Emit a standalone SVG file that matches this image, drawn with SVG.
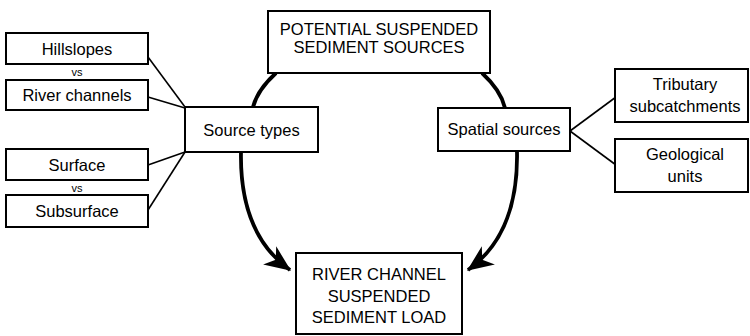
<svg xmlns="http://www.w3.org/2000/svg" width="750" height="336" viewBox="0 0 750 336">
<style>
.box{fill:#fff;stroke:#000;stroke-width:2}
.t{font-family:"Liberation Sans",Arial,sans-serif;font-size:16.5px;fill:#000;text-anchor:middle}
.vs{font-family:"Liberation Sans",Arial,sans-serif;font-size:11px;fill:#000;text-anchor:middle}
.thin{fill:none;stroke:#000;stroke-width:1.6}
.thick{fill:none;stroke:#000;stroke-width:3.8}
</style>
<defs>
<marker id="ah" markerUnits="userSpaceOnUse" markerWidth="30" markerHeight="30" viewBox="-22 -11 24 22" refX="0" refY="0" orient="auto">
<path d="M1,0 L-20,-9 L-14,0 L-20,9 Z" fill="#000"/>
</marker>
</defs>
<g id="connectors">
<line class="thin" x1="148" y1="57" x2="185" y2="107"/>
<line class="thin" x1="148" y1="97" x2="185" y2="108"/>
<line class="thin" x1="148" y1="165" x2="185" y2="152"/>
<line class="thin" x1="148" y1="210" x2="185" y2="152"/>
<line class="thin" x1="570" y1="131" x2="616" y2="97"/>
<line class="thin" x1="570" y1="131" x2="616" y2="165"/>
<path class="thick" d="M276,73 C264,84 256,95 253,107"/>
<path class="thick" d="M482,73 C494,84 502,95 505,108"/>
<path class="thick" d="M241,152 C240,205 255,245 290,270" marker-end="url(#ah)"/>
<path class="thick" d="M517,152 C518,205 503,245 468,270" marker-end="url(#ah)"/>
</g>
<g id="top">
<rect class="box" x="268" y="11" width="222" height="62"/>
<text class="t" x="379" y="35">POTENTIAL SUSPENDED</text>
<text class="t" x="379" y="53">SEDIMENT SOURCES</text>
</g>
<g id="hillslopes">
<rect class="box" x="6" y="33" width="142" height="31"/>
<text class="t" x="77" y="55">Hillslopes</text>
</g>
<text class="vs" x="77" y="76">vs</text>
<g id="river-channels">
<rect class="box" x="6" y="80" width="142" height="30"/>
<text class="t" x="77" y="101">River channels</text>
</g>
<g id="surface">
<rect class="box" x="6" y="149" width="142" height="31"/>
<text class="t" x="77" y="171">Surface</text>
</g>
<text class="vs" x="77" y="192">vs</text>
<g id="subsurface">
<rect class="box" x="6" y="195" width="142" height="32"/>
<text class="t" x="77" y="217">Subsurface</text>
</g>
<g id="source-types">
<rect class="box" x="185" y="107" width="133" height="45"/>
<text class="t" x="251.5" y="135.5">Source types</text>
</g>
<g id="spatial-sources">
<rect class="box" x="438" y="108" width="132" height="43"/>
<text class="t" x="504" y="135">Spatial sources</text>
</g>
<g id="tributary">
<rect class="box" x="615" y="69" width="133" height="53"/>
<text class="t" x="685" y="90">Tributary</text>
<text class="t" x="685" y="112">subcatchments</text>
</g>
<g id="geological">
<rect class="box" x="615" y="139" width="133" height="53"/>
<text class="t" x="685" y="160">Geological</text>
<text class="t" x="685" y="182">units</text>
</g>
<g id="load">
<rect class="box" x="296" y="253" width="166" height="81"/>
<text class="t" x="379" y="280">RIVER CHANNEL</text>
<text class="t" x="379" y="302">SUSPENDED</text>
<text class="t" x="379" y="323">SEDIMENT LOAD</text>
</g>
</svg>
